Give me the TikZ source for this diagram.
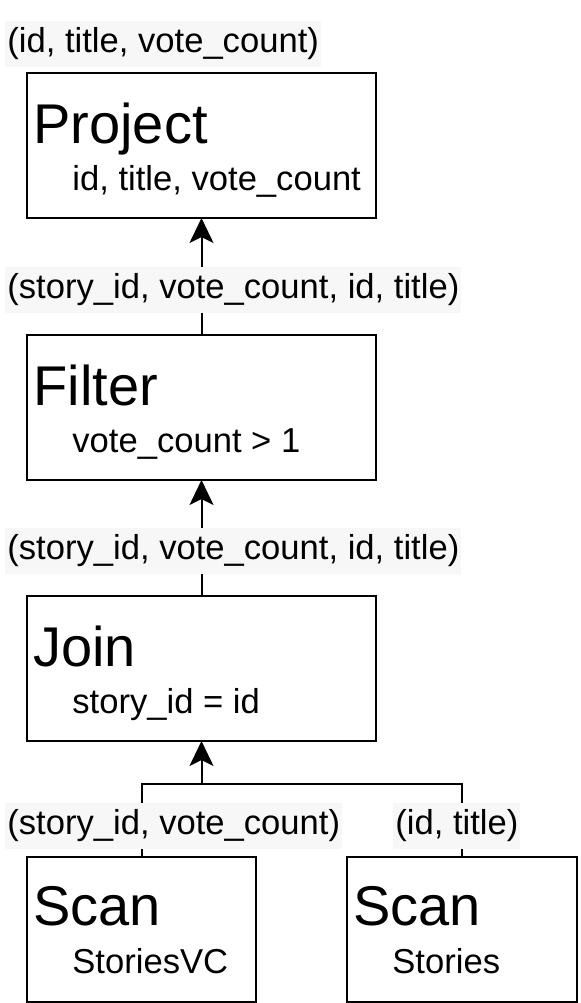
\documentclass[tikz,border=0pt]{standalone}
\usepackage{fontspec}
\setmainfont{Liberation Sans}
\usepackage{xcolor}
\usepackage{tikz}
\usetikzlibrary{arrows.meta}
\definecolor{lblbg}{RGB}{247,247,247}
\tikzset{
  op/.style={draw,line width=1pt,rectangle,anchor=north west,inner sep=0pt,outer sep=0pt,minimum height=72.5pt},
  ttl/.style={anchor=base west,inner sep=0pt,font=\fontsize{28}{32}\selectfont},
  arg/.style={anchor=base west,inner sep=0pt,font=\fontsize{17.3}{20}\selectfont},
  col/.style={anchor=west,fill=lblbg,inner xsep=1pt,inner ysep=3.5pt,font=\fontsize{17.3}{20}\selectfont},
  ln/.style={line width=1pt},
  fl/.style={line width=1pt,-{Stealth[length=12.5pt,width=12pt,inset=3pt]}}
}

\begin{document}
\begin{tikzpicture}[x=0.5pt,y=-0.5pt]
\useasboundingbox (0,0) rectangle (580,1003);
\node[op,minimum width=174.5pt] (prj) at (27,73) {};
\node[ttl] (prjt) at ([shift={(6,70)}]prj.north west) {Project};
\node[arg] (prja) at ([shift={(45,117)}]prj.north west) {id, title, vote\_count};
\node[op,minimum width=174.5pt] (flt) at (27,335) {};
\node[ttl] (fltt) at ([shift={(6,70)}]flt.north west) {Filter};
\node[arg] (flta) at ([shift={(45,117)}]flt.north west) {vote\_count > 1};
\node[op,minimum width=174.5pt] (jon) at (27,596) {};
\node[ttl] (jont) at ([shift={(6,70)}]jon.north west) {Join};
\node[arg] (jona) at ([shift={(45,117)}]jon.north west) {story\_id = id};
\node[op,minimum width=114.5pt] (scl) at (27,857) {};
\node[ttl] (sclt) at ([shift={(6,68)}]scl.north west) {Scan};
\node[arg] (scla) at ([shift={(45,116)}]scl.north west) {StoriesVC};
\node[op,minimum width=115pt] (scr) at (347,857) {};
\node[ttl] (scrt) at ([shift={(6,68)}]scr.north west) {Scan};
\node[arg] (scra) at ([shift={(45,116)}]scr.north west) {Stories};
% edges
\coordinate (jn) at (201.5,784);
\draw[fl] (flt.north) -- (prj.south);
\draw[fl] (jon.north) -- (flt.south);
\draw[ln] (scl.north) |- (jn) -| (scr.north);
\draw[fl] (jn) -- (jon.south);
% column lists
\node[col] (c0) at (5,44) {(id, title, vote\_count)};
\node[col] (c1) at (5,290) {(story\_id, vote\_count, id, title)};
\node[col] (c2) at (5,551) {(story\_id, vote\_count, id, title)};
\node[col] (c3) at (5,826) {(story\_id, vote\_count)};
\node[col] (c4) at (393,826) {(id, title)};
\end{tikzpicture}
\end{document}
